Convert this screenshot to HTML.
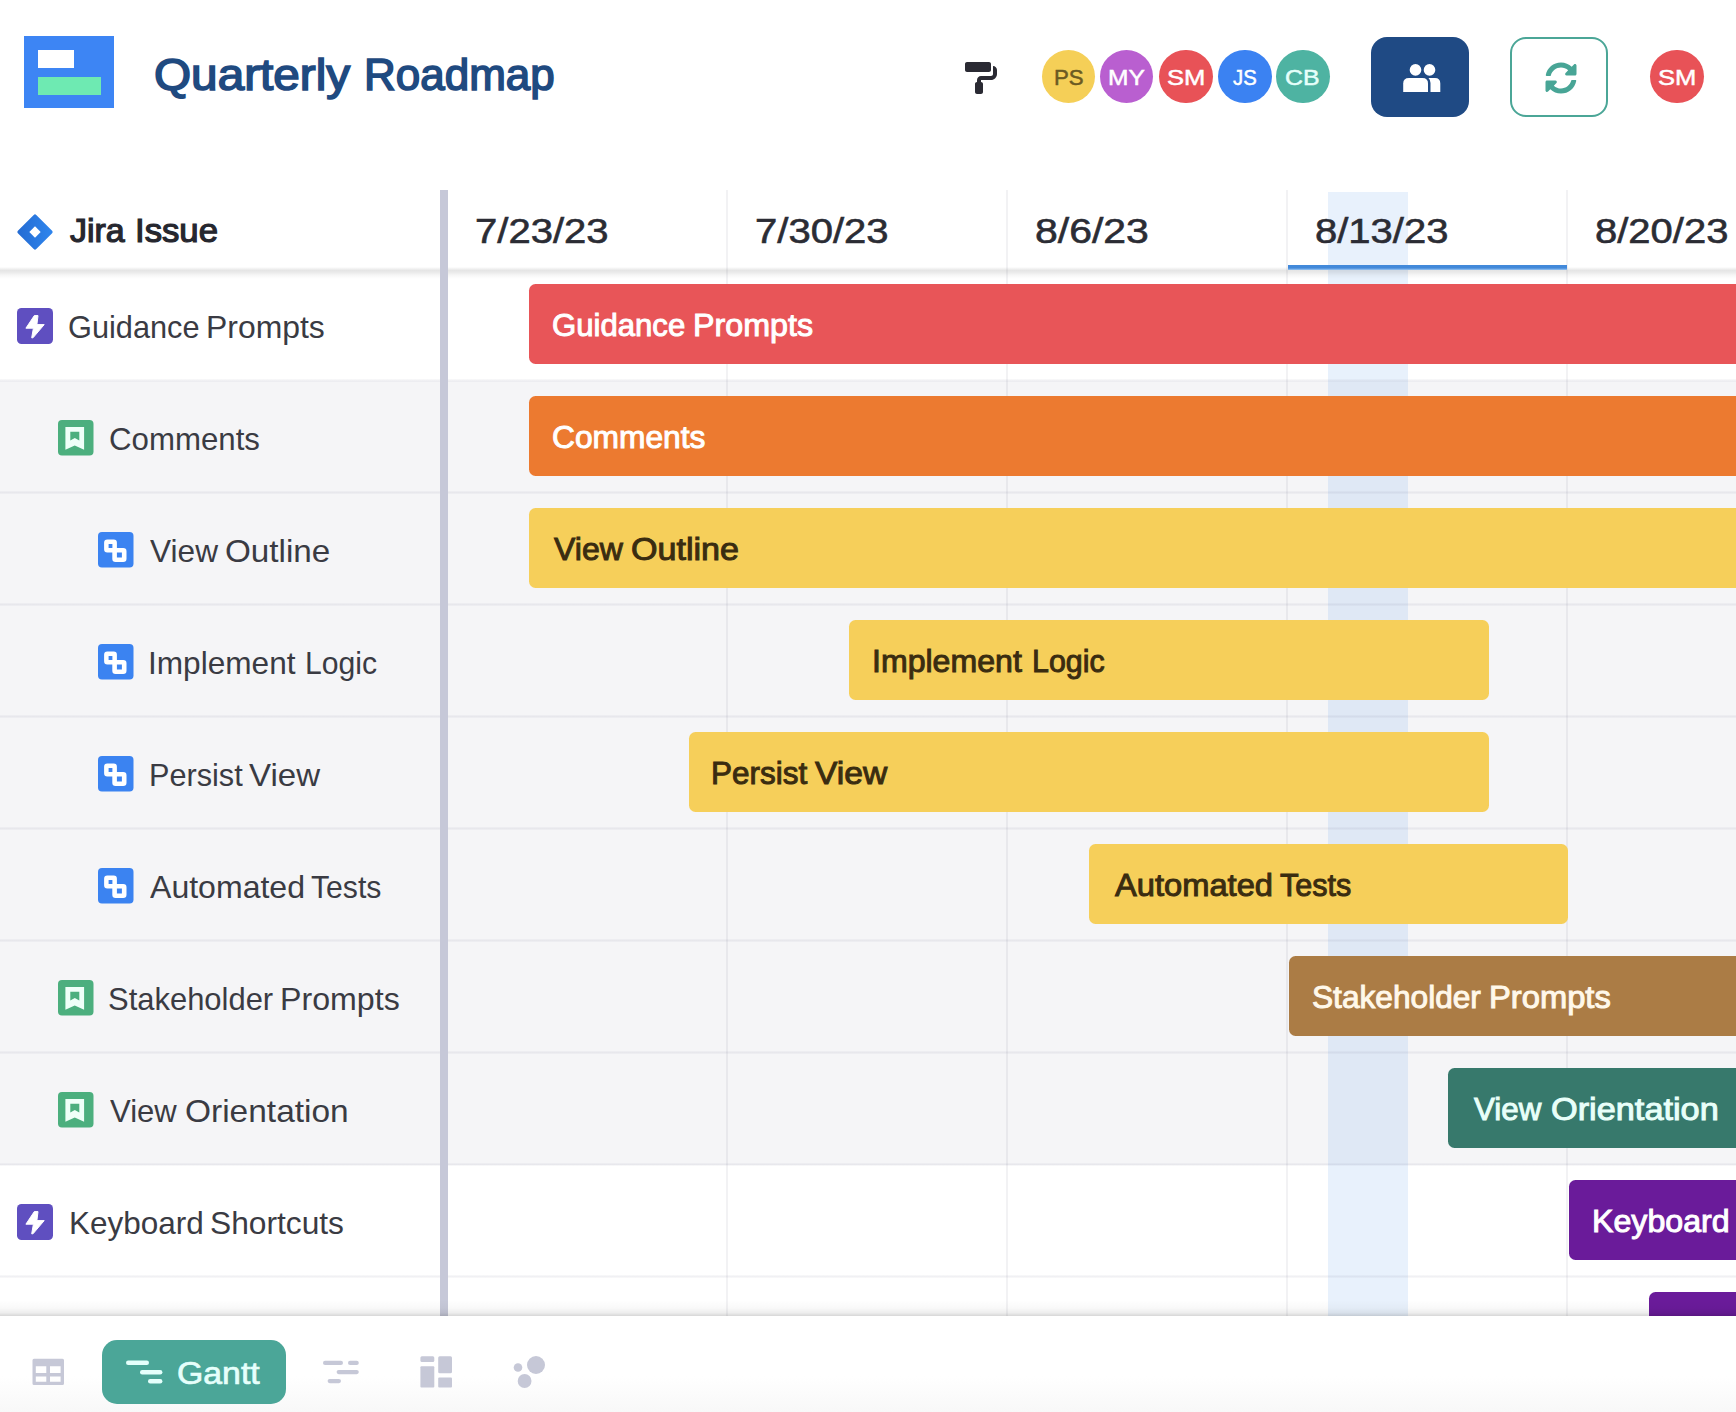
<!DOCTYPE html>
<html lang="en">
<head>
<meta charset="utf-8">
<title>Quarterly Roadmap</title>
<style>
*{box-sizing:border-box;margin:0;padding:0}
html,body{width:1736px;height:1412px;overflow:hidden;background:#fff}
body{font-family:"Liberation Sans",sans-serif;color:#2d2f3b;position:relative}
.abs{position:absolute}
.t{position:absolute;white-space:nowrap;line-height:1;transform-origin:0 0}
#logo{left:24px;top:36px;width:90px;height:72px;background:#3d85f4}
#logo i{position:absolute;display:block}
.av{position:absolute;width:53.4px;height:53.4px;border-radius:50%;top:50px}
.btn{position:absolute;top:37px;width:98px;height:80px;border-radius:16px}
#grid{left:0;top:190px;width:1736px;height:1126px;overflow:hidden}
.vline{position:absolute;top:0;width:2px;height:1126px;background:rgba(90,90,110,.08)}
.hline{position:absolute;left:0;width:1736px;height:3px;background:linear-gradient(rgba(110,110,140,.035),rgba(110,110,140,.1),rgba(110,110,140,.035))}
.bar{position:absolute;height:79.4px;border-radius:6.5px}
</style>
</head>
<body>
<div id="logo" class="abs"><i style="left:14px;top:14px;width:36px;height:18px;background:#fff"></i><i style="left:14px;top:41px;width:63px;height:18px;background:#6eeab2"></i></div>
<div class="t" style="left:154.33px;top:54.40px;font-size:43.5px;transform:scaleX(1.0965);color:#1f4a80;-webkit-text-stroke:1.6px #1f4a80;">Quarterly</div> <div class="t" style="left:363.62px;top:54.40px;font-size:43.5px;transform:scaleX(1.0111);color:#1f4a80;-webkit-text-stroke:1.6px #1f4a80;">Roadmap</div>
<svg class="abs" style="left:964.5px;top:61.7px" width="32" height="32" viewBox="0 0 512 512"><path fill="#2a2a33" d="M416 128V32c0-17.67-14.33-32-32-32H32C14.33 0 0 14.33 0 32v96c0 17.67 14.33 32 32 32h352c17.67 0 32-14.33 32-32zm32-64v128c0 17.67-14.33 32-32 32H256c-35.35 0-64 28.650-64 64v32c-17.67 0-32 14.33-32 32v128c0 17.67 14.33 32 32 32h64c17.67 0 32-14.33 32-32V352c0-17.67-14.33-32-32-32v-32h160c53.02 0 96-42.98 96-96v-64c0-35.35-28.65-64-64-64z"/></svg>
<div class="av" style="left:1041.7px;background:#f5cf57"></div>
<div class="t" style="left:1054.42px;top:67.05px;font-size:22.5px;transform:scaleX(0.9874);color:#6b5a22;-webkit-text-stroke:0.5px #6b5a22;">PS</div>
<div class="av" style="left:1099.9px;background:#b95fd0"></div>
<div class="t" style="left:1107.76px;top:67.05px;font-size:22.5px;transform:scaleX(1.0915);color:#fff;-webkit-text-stroke:0.5px #fff;">MY</div>
<div class="av" style="left:1159.3px;background:#e85257"></div>
<div class="t" style="left:1166.75px;top:67.05px;font-size:22.5px;transform:scaleX(1.1365);color:#fff;-webkit-text-stroke:0.5px #fff;">SM</div>
<div class="av" style="left:1218.3px;background:#3b82f2"></div>
<div class="t" style="left:1233.00px;top:67.05px;font-size:22.5px;transform:scaleX(0.9020);color:#fff;-webkit-text-stroke:0.5px #fff;">JS</div>
<div class="av" style="left:1276.3px;background:#4eb3a2"></div>
<div class="t" style="left:1285.20px;top:67.05px;font-size:22.5px;transform:scaleX(1.1043);color:#e6fffa;-webkit-text-stroke:0.5px #e6fffa;">CB</div>
<div class="av" style="left:1650.3px;background:#e85257"></div>
<div class="t" style="left:1657.75px;top:67.05px;font-size:22.5px;transform:scaleX(1.1365);color:#fff;-webkit-text-stroke:0.5px #fff;">SM</div>
<div class="btn" style="left:1371px;background:#1f4a84"></div>
<svg class="abs" style="left:1400px;top:60px" width="44" height="36" viewBox="0 0 44 36"><g fill="#fff"><circle cx="15.5" cy="9.9" r="5.8"/><circle cx="29.5" cy="9.9" r="5.8"/><path d="M3.2 32V23.5Q3.2 18 9 18H22.5Q28 18 28 23.500V32Z"/><path d="M30.5 32V23Q30.500 20 28.500 18H35Q40.300 18 40.300 23.500V32Z"/></g></svg>
<div class="btn" style="left:1510px;background:#fff;border:2px solid #4ba697"></div>
<svg class="abs" style="left:1545.2px;top:61.5px" width="32" height="32" viewBox="0 0 512 512"><path fill="#48a596" d="M370.72 133.28C339.458 104.008 298.888 87.962 255.848 88c-77.458.068-144.328 53.178-162.791 126.85-1.344 5.363-6.122 9.15-11.651 9.15H24.103c-7.498 0-13.194-6.807-11.807-14.176C33.933 94.924 134.813 8 256 8c66.448 0 126.791 26.136 171.315 68.685L463.03 40.97C478.149 25.851 504 36.559 504 57.941V192c0 13.255-10.745 24-24 24H345.941c-21.382 0-32.09-25.851-16.971-40.971l41.75-41.749zM32 296h134.059c21.382 0 32.09 25.851 16.971 40.971l-41.75 41.750c31.262 29.273 71.835 45.319 114.876 45.280 77.418-.07 144.315-53.144 162.787-126.849 1.344-5.363 6.122-9.150 11.651-9.150h57.304c7.498 0 13.194 6.807 11.807 14.176C478.067 417.076 377.187 504 256 504c-66.448 0-126.791-26.136-171.315-68.685L48.970 471.030C33.851 486.149 8 475.441 8 454.059V320c0-13.255 10.745-24 24-24z"/></svg>
<div id="grid" class="abs">
<div class="abs" style="left:0;top:191px;width:1736px;height:784px;background:#f5f5f7"></div>
<div class="abs" style="left:1328px;top:2px;width:80px;height:1126px;background:rgba(70,140,230,.125)"></div>
<div class="vline" style="left:726px"></div>
<div class="vline" style="left:1006px"></div>
<div class="vline" style="left:1286px"></div>
<div class="vline" style="left:1566px"></div>
<div class="hline" style="top:189px"></div>
<div class="hline" style="top:301px"></div>
<div class="hline" style="top:413px"></div>
<div class="hline" style="top:525px"></div>
<div class="hline" style="top:637px"></div>
<div class="hline" style="top:749px"></div>
<div class="hline" style="top:861px"></div>
<div class="hline" style="top:973px"></div>
<div class="hline" style="top:1085px"></div>
<div class="abs" style="left:0;top:77px;width:1736px;height:12px;background:linear-gradient(rgba(0,0,0,0),rgba(0,0,0,.10) 28%,rgba(0,0,0,.085) 42%,rgba(0,0,0,.03) 70%,rgba(0,0,0,0))"></div>
<div class="abs" style="left:1288px;top:74.500px;width:279px;height:5.500px;background:linear-gradient(#4289da 0,#4289da 60%,#9cc6f2)"></div>
</div>
<div class="t" style="left:475.01px;top:214.00px;font-size:35.5px;transform:scaleX(1.1283);color:#2b2c34;-webkit-text-stroke:0.6px #2b2c34;">7/23/23</div>
<div class="t" style="left:755.01px;top:214.00px;font-size:35.5px;transform:scaleX(1.1283);color:#2b2c34;-webkit-text-stroke:0.6px #2b2c34;">7/30/23</div>
<div class="t" style="left:1035.26px;top:214.00px;font-size:35.5px;transform:scaleX(1.1532);color:#2b2c34;-webkit-text-stroke:0.6px #2b2c34;">8/6/23</div>
<div class="t" style="left:1315.29px;top:214.00px;font-size:35.5px;transform:scaleX(1.1259);color:#2b2c34;-webkit-text-stroke:0.6px #2b2c34;">8/13/23</div>
<div class="t" style="left:1595.29px;top:214.00px;font-size:35.5px;transform:scaleX(1.1259);color:#2b2c34;-webkit-text-stroke:0.6px #2b2c34;">8/20/23</div>
<svg class="abs" style="left:15px;top:211.600px" width="40" height="40" viewBox="0 0 40 40"><defs><linearGradient id="jg" x1="1" y1="0" x2="0" y2="1"><stop offset="0" stop-color="#2f86ee"/><stop offset="1" stop-color="#246bd2"/></linearGradient></defs><rect x="7" y="7" width="26" height="26" rx="1.800" transform="rotate(45 20 20)" fill="url(#jg)"/><rect x="16" y="16" width="8" height="8" transform="rotate(45 20 20)" fill="#fff"/></svg>
<div class="t" style="left:70.46px;top:214.60px;font-size:32.8px;transform:scaleX(1.0363);color:#26272f;-webkit-text-stroke:1.2px #26272f;">Jira</div> <div class="t" style="left:134.65px;top:214.60px;font-size:32.8px;transform:scaleX(1.0587);color:#26272f;-webkit-text-stroke:1.2px #26272f;">Issue</div>
<div class="abs" style="left:439.5px;top:190px;width:8.500px;height:1126px;background:#c6c8d8"></div>
<svg class="abs" style="left:17.2px;top:308.4px" width="36" height="36" viewBox="0 0 36 36"><rect width="36" height="36" rx="4.500" fill="#5f4fc0"/><path d="M17.300 7.600H21L19.900 16.600H27.200L16 29.800H14.700L16.400 20.200H8.900Z" fill="#fff" stroke="#fff" stroke-width="1" stroke-linejoin="round"/></svg>
<div class="t" style="left:68.46px;top:311.00px;font-size:32px;transform:scaleX(0.9604);color:#3a3b43;">Guidance</div> <div class="t" style="left:206.16px;top:311.00px;font-size:32px;transform:scaleX(0.9970);color:#3a3b43;">Prompts</div>
<svg class="abs" style="left:57.8px;top:420.4px" width="36" height="36" viewBox="0 0 36 36"><rect width="35.500" height="35.500" rx="4" fill="#4caf7e"/><path fill-rule="evenodd" fill="#effff8" d="M7.400 6.900H26.100V29.800L16.750 25.400L7.400 29.800ZM12.300 11.800V20.400L16.800 18L21.300 20.400V11.800Z"/></svg>
<div class="t" style="left:108.59px;top:423.00px;font-size:32px;transform:scaleX(0.9759);color:#3a3b43;">Comments</div>
<svg class="abs" style="left:98px;top:532.4px" width="36" height="36" viewBox="0 0 36 36"><rect width="35.500" height="35.500" rx="4" fill="#3b83f1"/><rect x="8.350" y="9.850" width="8.300" height="8.300" rx="1" fill="none" stroke="#fff" stroke-width="4.500"/><rect x="16.600" y="18.200" width="9.600" height="9.600" rx="1" fill="#3b83f1" stroke="#fff" stroke-width="4.600"/></svg>
<div class="t" style="left:150.15px;top:535.00px;font-size:32px;transform:scaleX(0.9883);color:#3a3b43;">View</div> <div class="t" style="left:225.44px;top:535.00px;font-size:32px;transform:scaleX(1.0386);color:#3a3b43;">Outline</div>
<svg class="abs" style="left:98px;top:644.4px" width="36" height="36" viewBox="0 0 36 36"><rect width="35.500" height="35.500" rx="4" fill="#3b83f1"/><rect x="8.350" y="9.850" width="8.300" height="8.300" rx="1" fill="none" stroke="#fff" stroke-width="4.500"/><rect x="16.600" y="18.200" width="9.600" height="9.600" rx="1" fill="#3b83f1" stroke="#fff" stroke-width="4.600"/></svg>
<div class="t" style="left:148.34px;top:647.00px;font-size:32px;transform:scaleX(0.9874);color:#3a3b43;">Implement</div> <div class="t" style="left:304.81px;top:647.00px;font-size:32px;transform:scaleX(0.9425);color:#3a3b43;">Logic</div>
<svg class="abs" style="left:98px;top:756.4px" width="36" height="36" viewBox="0 0 36 36"><rect width="35.500" height="35.500" rx="4" fill="#3b83f1"/><rect x="8.350" y="9.850" width="8.300" height="8.300" rx="1" fill="none" stroke="#fff" stroke-width="4.500"/><rect x="16.600" y="18.200" width="9.600" height="9.600" rx="1" fill="#3b83f1" stroke="#fff" stroke-width="4.600"/></svg>
<div class="t" style="left:148.66px;top:759.00px;font-size:32px;transform:scaleX(0.9583);color:#3a3b43;">Persist</div> <div class="t" style="left:248.64px;top:759.00px;font-size:32px;transform:scaleX(1.0336);color:#3a3b43;">View</div>
<svg class="abs" style="left:98px;top:868.4px" width="36" height="36" viewBox="0 0 36 36"><rect width="35.500" height="35.500" rx="4" fill="#3b83f1"/><rect x="8.350" y="9.850" width="8.300" height="8.300" rx="1" fill="none" stroke="#fff" stroke-width="4.500"/><rect x="16.600" y="18.200" width="9.600" height="9.600" rx="1" fill="#3b83f1" stroke="#fff" stroke-width="4.600"/></svg>
<div class="t" style="left:150.30px;top:871.00px;font-size:32px;transform:scaleX(1.0016);color:#3a3b43;">Automated</div> <div class="t" style="left:311.39px;top:871.00px;font-size:32px;transform:scaleX(0.9430);color:#3a3b43;">Tests</div>
<svg class="abs" style="left:57.8px;top:980.4px" width="36" height="36" viewBox="0 0 36 36"><rect width="35.500" height="35.500" rx="4" fill="#4caf7e"/><path fill-rule="evenodd" fill="#effff8" d="M7.400 6.900H26.100V29.800L16.750 25.400L7.400 29.800ZM12.300 11.800V20.400L16.800 18L21.300 20.400V11.800Z"/></svg>
<div class="t" style="left:108.45px;top:983.00px;font-size:32px;transform:scaleX(0.9671);color:#3a3b43;">Stakeholder</div> <div class="t" style="left:280.34px;top:983.00px;font-size:32px;transform:scaleX(1.0048);color:#3a3b43;">Prompts</div>
<svg class="abs" style="left:57.8px;top:1092.4px" width="36" height="36" viewBox="0 0 36 36"><rect width="35.500" height="35.500" rx="4" fill="#4caf7e"/><path fill-rule="evenodd" fill="#effff8" d="M7.400 6.900H26.100V29.800L16.750 25.400L7.400 29.800ZM12.300 11.800V20.400L16.800 18L21.300 20.400V11.800Z"/></svg>
<div class="t" style="left:110.16px;top:1095.00px;font-size:32px;transform:scaleX(0.9708);color:#3a3b43;">View</div> <div class="t" style="left:185.33px;top:1095.00px;font-size:32px;transform:scaleX(1.0458);color:#3a3b43;">Orientation</div>
<svg class="abs" style="left:17.2px;top:1204.4px" width="36" height="36" viewBox="0 0 36 36"><rect width="36" height="36" rx="4.500" fill="#5f4fc0"/><path d="M17.300 7.600H21L19.900 16.600H27.200L16 29.800H14.700L16.400 20.200H8.900Z" fill="#fff" stroke="#fff" stroke-width="1" stroke-linejoin="round"/></svg>
<div class="t" style="left:68.99px;top:1207.00px;font-size:32px;transform:scaleX(0.9845);color:#3a3b43;">Keyboard</div> <div class="t" style="left:209.81px;top:1207.00px;font-size:32px;transform:scaleX(0.9909);color:#3a3b43;">Shortcuts</div>
<div class="abs" style="left:0;top:190px;width:1736px;height:1126px;overflow:hidden">
<div class="bar" style="left:529px;top:94.3px;width:1271px;background:#e85558"></div>
<div class="t" style="left:552.38px;top:119.83px;font-size:30.5px;transform:scaleX(1.0205);color:#fff;-webkit-text-stroke:0.95px #fff;">Guidance</div> <div class="t" style="left:693.19px;top:119.83px;font-size:30.5px;transform:scaleX(1.0567);color:#fff;-webkit-text-stroke:0.95px #fff;">Prompts</div>
<div class="bar" style="left:529px;top:206.3px;width:1271px;background:#ec7a30"></div>
<div class="t" style="left:552.26px;top:231.83px;font-size:30.5px;transform:scaleX(1.0408);color:#fff;-webkit-text-stroke:0.95px #fff;">Comments</div>
<div class="bar" style="left:529px;top:318.3px;width:1271px;background:#f6cf5a"></div>
<div class="t" style="left:553.82px;top:343.82px;font-size:30.5px;transform:scaleX(1.0499);color:#3a2c10;-webkit-text-stroke:0.95px #3a2c10;">View</div> <div class="t" style="left:631.48px;top:343.82px;font-size:30.5px;transform:scaleX(1.1177);color:#3a2c10;-webkit-text-stroke:0.95px #3a2c10;">Outline</div>
<div class="bar" style="left:849px;top:430.3px;width:639.5px;background:#f6cf5a"></div>
<div class="t" style="left:872.03px;top:455.82px;font-size:30.5px;transform:scaleX(1.0520);color:#3a2c10;-webkit-text-stroke:0.95px #3a2c10;">Implement</div> <div class="t" style="left:1032.19px;top:455.82px;font-size:30.5px;transform:scaleX(0.9954);color:#3a2c10;-webkit-text-stroke:0.95px #3a2c10;">Logic</div>
<div class="bar" style="left:689px;top:542.3px;width:799.5px;background:#f6cf5a"></div>
<div class="t" style="left:711.44px;top:567.82px;font-size:30.5px;transform:scaleX(1.0312);color:#3a2c10;-webkit-text-stroke:0.95px #3a2c10;">Persist</div> <div class="t" style="left:815.48px;top:567.82px;font-size:30.5px;transform:scaleX(1.1022);color:#3a2c10;-webkit-text-stroke:0.95px #3a2c10;">View</div>
<div class="bar" style="left:1088.7px;top:654.3px;width:479.29999999999995px;background:#f6cf5a"></div>
<div class="t" style="left:1114.84px;top:679.82px;font-size:30.5px;transform:scaleX(1.0711);color:#3a2c10;-webkit-text-stroke:0.95px #3a2c10;">Automated</div> <div class="t" style="left:1279.99px;top:679.82px;font-size:30.5px;transform:scaleX(1.0015);color:#3a2c10;-webkit-text-stroke:0.95px #3a2c10;">Tests</div>
<div class="bar" style="left:1288.7px;top:766.3px;width:511.29999999999995px;background:#ab7c45"></div>
<div class="t" style="left:1311.66px;top:791.82px;font-size:30.5px;transform:scaleX(1.0376);color:#fff8ea;-webkit-text-stroke:0.95px #fff8ea;">Stakeholder</div> <div class="t" style="left:1488.67px;top:791.82px;font-size:30.5px;transform:scaleX(1.0728);color:#fff8ea;-webkit-text-stroke:0.95px #fff8ea;">Prompts</div>
<div class="bar" style="left:1448px;top:878.3px;width:352px;background:#37796c"></div>
<div class="t" style="left:1473.81px;top:903.82px;font-size:30.5px;transform:scaleX(1.0274);color:#e8fff9;-webkit-text-stroke:0.95px #e8fff9;">View</div> <div class="t" style="left:1551.07px;top:903.82px;font-size:30.5px;transform:scaleX(1.1244);color:#e8fff9;-webkit-text-stroke:0.95px #e8fff9;">Orientation</div>
<div class="bar" style="left:1568.5px;top:990.3px;width:231.5px;background:#6a1b9a"></div>
<div class="t" style="left:1592.19px;top:1015.82px;font-size:30.5px;transform:scaleX(1.0538);color:#fff;-webkit-text-stroke:0.95px #fff;">Keyboard</div> <div class="t" style="left:1737.01px;top:1015.82px;font-size:30.5px;transform:scaleX(1.0627);color:#fff;-webkit-text-stroke:0.95px #fff;">Shortcuts</div>
<div class="bar" style="left:1648.5px;top:1102.3px;width:151.5px;background:#6a1b9a"></div>
</div>
<div class="abs" style="left:0;top:1300px;width:1736px;height:15.500px;background:linear-gradient(rgba(0,0,0,0),rgba(0,0,0,.025) 50%,rgba(0,0,0,.07) 80%,rgba(0,0,0,.16))"></div>
<div class="abs" style="left:0;top:1315.500px;width:1736px;height:97px;background:linear-gradient(#fff 0,#fff 60px,#f8f8f8)"></div>
<svg class="abs" style="left:30px;top:1356px" width="36" height="32" viewBox="0 0 36 32"><path fill="#c6c8d7" fill-rule="evenodd" d="M4 2.800H32.500Q34 2.800 34 4.300V27.500Q34 29 32.500 29H4Q2.500 29 2.500 27.500V4.300Q2.500 2.800 4 2.800ZM5.800 10.300V17H16.300V10.300ZM20 10.300V17H30.600V10.300ZM5.800 20.500V25.800H16.300V20.500ZM20 20.500V25.800H30.600V20.500Z"/></svg>
<div class="abs" style="left:102px;top:1340px;width:184px;height:64px;border-radius:15px;background:#4ba698"></div>
<svg class="abs" style="left:124px;top:1358px" width="42" height="28" viewBox="0 0 42 28"><g fill="#e4fffb"><rect x="2" y="2.500" width="23" height="4.500" rx="2.200"/><rect x="16" y="12" width="22.400" height="4.500" rx="2.200"/><rect x="24" y="21" width="14.400" height="4.500" rx="2.200"/></g></svg>
<div class="t" style="left:176.64px;top:1358.25px;font-size:31px;transform:scaleX(1.0903);color:#e6fffb;-webkit-text-stroke:0.7px #e6fffb;">Gantt</div>
<svg class="abs" style="left:320px;top:1356px" width="42" height="32" viewBox="0 0 42 32"><g fill="#c6c8d7"><rect x="3" y="4.800" width="20" height="4.200" rx="2.100"/><rect x="28" y="4.800" width="10.800" height="4.200" rx="2.100"/><rect x="16.600" y="14" width="22.200" height="4.200" rx="2.100"/><rect x="7.600" y="23" width="13.400" height="4.200" rx="2.100"/></g></svg>
<svg class="abs" style="left:418px;top:1354px" width="36" height="36" viewBox="0 0 36 36"><g fill="#c6c8d7"><rect x="2.400" y="2.300" width="13.900" height="5.700" rx="1.500"/><rect x="2.400" y="12.300" width="13.900" height="21.100" rx="1"/><rect x="20.200" y="2.300" width="13.800" height="16.900" rx="1.500"/><rect x="20.200" y="23.500" width="13.800" height="9.900" rx="1"/></g></svg>
<svg class="abs" style="left:510px;top:1352px" width="40" height="40" viewBox="0 0 40 40"><g fill="#c6c8d7"><circle cx="8" cy="15.500" r="4.300"/><circle cx="26" cy="13" r="9"/><circle cx="14.600" cy="29" r="6.900"/></g></svg>
</body>
</html>
